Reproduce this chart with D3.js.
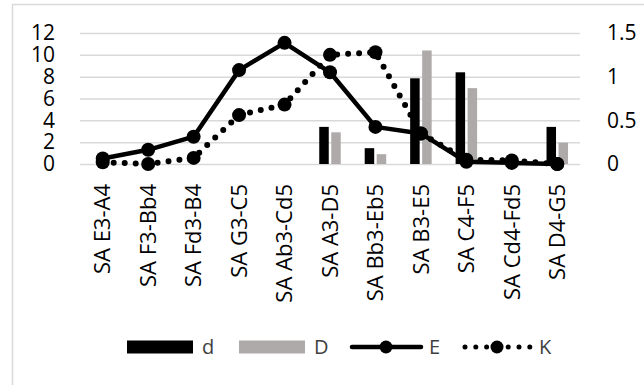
<!DOCTYPE html>
<html>
<head>
<meta charset="utf-8">
<script src="https://cdn.jsdelivr.net/npm/d3@7"></script>
<style>
  body { margin: 0; background: #fff; }
  svg { display: block; font-family: "Open Sans", sans-serif; }
</style>
</head>
<body>
<svg id="chart" width="644" height="385"></svg>
<script>
var categories = ['SA E3-A4', 'SA F3-Bb4', 'SA Fd3-B4', 'SA G3-C5', 'SA Ab3-Cd5', 'SA A3-D5',
  'SA Bb3-Eb5', 'SA B3-E5', 'SA C4-F5', 'SA Cd4-Fd5', 'SA D4-G5'];
var dValues = [0, 0, 0, 0, 0, 3.4, 1.45, 7.85, 8.4, 0, 3.4];
var DValues = [0, 0, 0, 0, 0, 2.9, 0.9, 10.4, 6.95, 0, 1.95];
var EValues = [0.5, 1.3, 2.5, 8.6, 11.1, 8.4, 3.4, 2.8, 0.2, 0.1, 0];
var KValues = [0.02, 0, 0.07, 0.56, 0.68, 1.25, 1.28, 0.35, 0.05, 0.04, 0];
var leftTicks = [0, 2, 4, 6, 8, 10, 12];
var rightTicks = [0, 0.5, 1, 1.5];

var svg = d3.select('#chart');
var plotL = 80, plotR = 580, plotT = 33, plotB = 164;
var grey = '#aeaaaa';

// chart frame
svg.append('rect')
  .attr('x', 12.5).attr('y', 4.5)
  .attr('width', 700).attr('height', 420)
  .attr('fill', 'none')
  .attr('stroke', '#d9d9d9')
  .attr('stroke-width', 1.5);

var x = d3.scaleBand().domain(categories).range([plotL, plotR]);
var y = d3.scaleLinear().domain([0, 12]).range([plotB, plotT]);
var y2 = d3.scaleLinear().domain([0, 1.5]).range([plotB, plotT]);

var gLeft = svg.append('g')
  .attr('transform', 'translate(' + plotL + ',0)')
  .call(d3.axisLeft(y).tickValues(leftTicks).tickSizeInner(-(plotR - plotL)).tickSizeOuter(0).tickPadding(25));
gLeft.select('.domain').remove();
gLeft.selectAll('line').attr('stroke', '#d9d9d9').attr('stroke-width', 1.5);
gLeft.selectAll('text').attr('font-size', 21).attr('fill', '#000').attr('font-family', '"Open Sans", sans-serif');

var gRight = svg.append('g')
  .attr('transform', 'translate(' + plotR + ',0)')
  .call(d3.axisRight(y2).tickValues(rightTicks).tickFormat(d3.format('~g')).tickSize(0).tickPadding(27));
gRight.select('.domain').remove();
gRight.selectAll('text').attr('font-size', 21).attr('fill', '#000').attr('font-family', '"Open Sans", sans-serif');

var gx = svg.append('g')
  .attr('transform', 'translate(0,' + plotB + ')')
  .call(d3.axisBottom(x).tickSize(0).tickPadding(0));
gx.select('.domain').remove();
gx.selectAll('text')
  .attr('font-size', 22)
  .attr('fill', '#000')
  .attr('font-family', '"Open Sans", sans-serif')
  .attr('text-anchor', 'end')
  .attr('dy', '0.35em')
  .attr('transform', 'translate(0,20) rotate(-90)')
  .attr('y', 0).attr('x', 0);

// bars
var barW = 9.5, gap = 2.5;
svg.append('g').selectAll('rect')
  .data(dValues)
  .join('rect')
  .attr('x', function(d, i) { return x(categories[i]) + x.bandwidth() / 2 - gap / 2 - barW; })
  .attr('y', function(d) { return y(d); })
  .attr('width', barW)
  .attr('height', function(d) { return y(0) - y(d); })
  .attr('fill', '#000');
svg.append('g').selectAll('rect')
  .data(DValues)
  .join('rect')
  .attr('x', function(d, i) { return x(categories[i]) + x.bandwidth() / 2 + gap / 2; })
  .attr('y', function(d) { return y(d); })
  .attr('width', barW)
  .attr('height', function(d) { return y(0) - y(d); })
  .attr('fill', grey);

function cx(d, i) { return x(categories[i]) + x.bandwidth() / 2; }

// K dotted line (right axis)
svg.append('path')
  .datum(KValues)
  .attr('fill', 'none')
  .attr('stroke', '#000')
  .attr('stroke-width', 6)
  .attr('stroke-linecap', 'round')
  .attr('stroke-dasharray', '0 11')
  .attr('d', d3.line().x(cx).y(function(d) { return y2(d); }));
svg.append('g').selectAll('circle')
  .data(KValues)
  .join('circle')
  .attr('cx', cx)
  .attr('cy', function(d) { return y2(d); })
  .attr('r', 7)
  .attr('fill', '#000');

// E solid line (left axis)
svg.append('path')
  .datum(EValues)
  .attr('fill', 'none')
  .attr('stroke', '#000')
  .attr('stroke-width', 4.5)
  .attr('stroke-linejoin', 'round')
  .attr('d', d3.line().x(cx).y(function(d) { return y(d); }));
svg.append('g').selectAll('circle')
  .data(EValues)
  .join('circle')
  .attr('cx', cx)
  .attr('cy', function(d) { return y(d); })
  .attr('r', 7)
  .attr('fill', '#000');

// legend
var legend = svg.append('g').attr('font-size', 20).attr('fill', '#404040');
var ly = 347;
legend.append('rect').attr('x', 127).attr('y', ly - 6.5).attr('width', 66).attr('height', 13).attr('fill', '#000');
legend.append('text').attr('x', 202).attr('y', ly).attr('dy', '0.35em').text('d');
legend.append('rect').attr('x', 239).attr('y', ly - 6.5).attr('width', 66).attr('height', 13).attr('fill', grey);
legend.append('text').attr('x', 314).attr('y', ly).attr('dy', '0.35em').text('D');
legend.append('line').attr('x1', 352).attr('x2', 421).attr('y1', ly).attr('y2', ly)
  .attr('stroke', '#000').attr('stroke-width', 4.5).attr('stroke-linecap', 'round');
legend.append('circle').attr('cx', 386).attr('cy', ly).attr('r', 6.5).attr('fill', '#000');
legend.append('text').attr('x', 429).attr('y', ly).attr('dy', '0.35em').text('E');
legend.append('line').attr('x1', 465).attr('x2', 530).attr('y1', ly).attr('y2', ly)
  .attr('stroke', '#000').attr('stroke-width', 5).attr('stroke-linecap', 'round').attr('stroke-dasharray', '0 10.8');
legend.append('circle').attr('cx', 497).attr('cy', ly).attr('r', 6.5).attr('fill', '#000');
legend.append('text').attr('x', 539).attr('y', ly).attr('dy', '0.35em').text('K');
</script>
</body>
</html>
